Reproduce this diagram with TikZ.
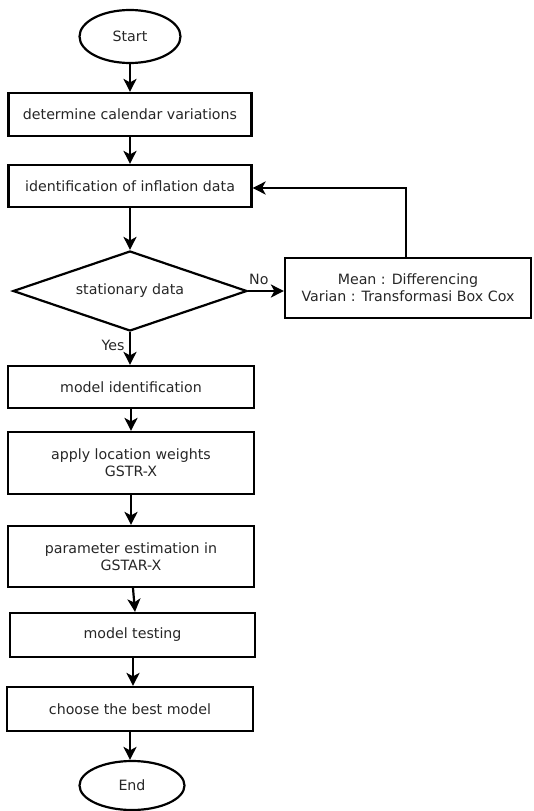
\documentclass[tikz,border=0pt]{standalone}
\usepackage{fontspec}
\setmainfont{DejaVu Sans}
\usetikzlibrary{shapes.geometric,arrows.meta}
\begin{document}
\begin{tikzpicture}[x=1pt,y=1pt,
  every node/.style={font=\fontsize{14.2}{17}\selectfont, text=black!85},
  procbox/.style={draw=black, line width=2.2pt, rectangle, minimum width=243pt, inner sep=0pt, align=center},
  term/.style={draw=black, line width=2.2pt, ellipse, inner sep=0pt},
  decis/.style={draw=black, line width=2.2pt, diamond, aspect=2.925, inner sep=0pt, minimum width=234pt, minimum height=80pt},
  flow/.style={line width=2.2pt, -{Stealth[length=13pt,width=13pt,inset=3.5pt]}},
]
\useasboundingbox (0,0) rectangle (533,-811);
\node[term, minimum width=101pt, minimum height=53pt] (start) at (130,-36.5) {Start};
\node[procbox, minimum height=43pt] (b1) at (130,-114.5) {determine calendar variations};
\node[procbox, minimum height=42pt] (b2) at (130,-186) {identification of inflation data};
\node[decis] (dia) at (130,-291) {stationary data};
\node[procbox, minimum width=246pt, minimum height=60pt] (rb) at (408,-288) {Mean : Differencing\\Varian : Transformasi Box Cox};
\node[procbox, minimum width=246pt, minimum height=42pt] (b3) at (131,-387) {model identification};
\node[procbox, minimum width=246pt, minimum height=62pt] (b4) at (131,-463) {apply location weights\\GSTR-X};
\node[procbox, minimum width=246pt, minimum height=61pt] (b5) at (131,-556.5) {parameter estimation in\\GSTAR-X};
\node[procbox, minimum width=245pt, minimum height=44pt] (b6) at (132.5,-635) {model testing};
\node[procbox, minimum width=246pt, minimum height=44pt] (b7) at (130,-709) {choose the best model};
\node[term, minimum width=105pt, minimum height=49pt] (end) at (132,-785.5) {End};
\coordinate (fbc) at (406,-188);
\draw[flow] (start) -- (b1);
\draw[flow] (b1) -- (b2);
\draw[flow] (b2) -- (dia);
\draw[flow] (dia.east) -- node[above, pos=0.3, yshift=2pt]{No} (rb.west |- dia.east);
\draw[flow] (rb.north -| fbc) -- (fbc) -- (fbc -| b2.east);
\draw[flow] (dia.south) -- node[left, pos=0.4, xshift=-1pt]{Yes} (dia.south |- b3.north);
\draw[flow] (b3.south) -- (b3.south |- b4.north);
\draw[flow] (b4.south) -- (b4.south |- b5.north);
\draw[flow] ([xshift=2pt]b5.south) -- ([xshift=4pt]b5.south |- b6.north);
\draw[flow] ([xshift=0.5pt]b6.south) -- ([xshift=0.5pt]b6.south |- b7.north);
\draw[flow] (b7.south) -- (b7.south |- end.north);
\end{tikzpicture}
\end{document}
